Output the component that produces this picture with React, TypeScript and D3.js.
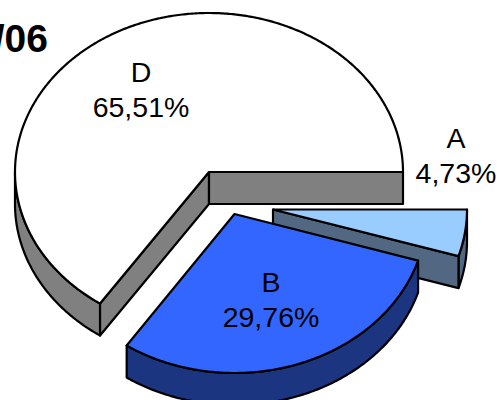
import React from "react";
import * as d3 from "d3";

const categories = ["A", "B", "D"];
const shares = [4.73, 29.76, 65.51];
const valueLabels = ["4,73%", "29,76%", "65,51%"];
const title = "/06";

const topColors = ["#99CCFF", "#3366FF", "#FFFFFF"];
const sideColors = ["#526882", "#1C3580", "#808080"];
const centers: [number, number][] = [[273, 209.5], [234.5, 214], [209, 172]];
const radiiX = [194, 192, 194];
const labelPos: [number, number][] = [[456, 148], [271, 292], [141, 82]];
const RY = 159, DEPTH = 32;
const FONT = "'Liberation Sans', Arial, sans-serif";

const arcs = d3.pie<number>().sort(null).startAngle(0).endAngle(2 * Math.PI)(shares);

const line = d3.line<[number, number]>().x(d => d[0]).y(d => d[1]);

function rim(c: [number, number], rx: number, a0: number, a1: number, dy = 0): [number, number][] {
  const n = Math.max(2, Math.ceil(Math.abs(a1 - a0) / 0.01));
  return d3.range(n + 1).map(i => {
    const a = a0 + ((a1 - a0) * i) / n;
    return [c[0] + rx * Math.cos(a), c[1] + dy + RY * Math.sin(a)] as [number, number];
  });
}

function poly(pts: [number, number][]) {
  return line(pts) + "Z";
}

function Slice({ i }: { i: number }) {
  const c = centers[i];
  const rx = radiiX[i];
  const a0 = arcs[i].startAngle;
  const a1 = arcs[i].endAngle;
  const side = sideColors[i];
  const sk = { stroke: "#000", strokeWidth: 2.2, strokeLinejoin: "round" as const };
  const faces: string[] = [];
  const rimStart = Math.max(a0, 0);
  const rimEnd = Math.min(a1, Math.PI);
  if (rimEnd > rimStart) {
    faces.push(poly([...rim(c, rx, rimStart, rimEnd), ...rim(c, rx, rimEnd, rimStart, DEPTH)]));
  }
  const wall = (a: number) => {
    const p: [number, number] = [c[0] + rx * Math.cos(a), c[1] + RY * Math.sin(a)];
    return poly([c, p, [p[0], p[1] + DEPTH], [c[0], c[1] + DEPTH]]);
  };
  if (i === 0) faces.push(wall(a1));
  if (i === 2) {
    faces.push(wall(a0));
    faces.push(wall(a1));
  }
  const top = poly([c, ...rim(c, rx, a0, a1)]);
  return (
    <g>
      {faces.map((d, k) => (
        <path key={k} d={d} fill={side} {...sk} />
      ))}
      <path d={top} fill={topColors[i]} {...sk} />
    </g>
  );
}

export default function App() {
  return (
    <svg
      width={499}
      height={400}
      viewBox="0 0 499 400"
      style={{ position: "fixed", left: 0, top: 0, background: "#fff" }}
    >
      {[2, 0, 1].map(i => (
        <Slice key={i} i={i} />
      ))}
      {categories.map((cat, i) => (
        <text key={cat} textAnchor="middle" fontFamily={FONT} fontSize={28.5} fill="#000">
          <tspan x={labelPos[i][0]} y={labelPos[i][1]}>{cat}</tspan>
          <tspan x={labelPos[i][0]} y={labelPos[i][1] + 35}>{valueLabels[i]}</tspan>
        </text>
      ))}
      <text x={48} y={52} textAnchor="end" fontFamily={FONT} fontSize={39} fontWeight="bold" fill="#000">
        {title}
      </text>
    </svg>
  );
}
